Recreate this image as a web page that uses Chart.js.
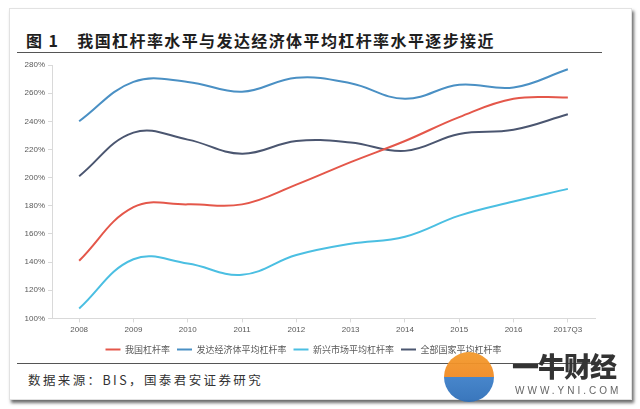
<!DOCTYPE html>
<html><head><meta charset="utf-8">
<script src="https://cdn.jsdelivr.net/npm/chart.js@4.4.0/dist/chart.umd.min.js"></script>
<style>
html,body{margin:0;padding:0;background:#fff;}
body{width:640px;height:409px;position:relative;overflow:hidden;font-family:"Noto Sans CJK SC",sans-serif;}
#card{position:absolute;left:9px;top:8px;width:621px;height:390px;background:#fff;border:1px solid #e2e2e2;box-shadow:2px 3px 3px rgba(60,60,60,0.75);}
#title{position:absolute;left:26px;top:28px;font-size:16px;font-weight:700;color:#1e1e1e;letter-spacing:1.4px;white-space:nowrap;}
#title .n{margin-right:18px;}
#hr1{position:absolute;left:17px;top:52px;width:585px;height:1px;background:#555;}
#hr2{position:absolute;left:17px;top:363px;width:585px;height:1px;background:#555;}
#src{position:absolute;left:28px;top:370px;font-size:12.5px;color:#333;letter-spacing:2.4px;white-space:nowrap;}
#wrap{position:absolute;left:0;top:56px;width:620px;height:308px;}
#logo{position:absolute;left:444px;top:352px;width:50px;height:50px;border-radius:50%;background:linear-gradient(180deg,#f39a2b 0%,#f08a24 50%,#3d7fc8 51%,#2f6fb8 100%);opacity:0.95;}
#wm1{position:absolute;left:512px;top:346px;font-size:27px;font-weight:900;color:#333;letter-spacing:-1px;white-space:nowrap;}
#wm2{position:absolute;left:515px;top:385px;font-size:10px;color:#666;letter-spacing:3px;font-family:"Liberation Sans",sans-serif;white-space:nowrap;}
</style></head>
<body>
<div id="card"></div>
<div id="title"><span class="n">图 1</span>我国杠杆率水平与发达经济体平均杠杆率水平逐步接近</div>
<div id="hr1"></div>
<div id="wrap"><canvas id="c"></canvas></div>
<div id="hr2"></div>
<div id="src">数据来源：BIS，国泰君安证券研究</div>
<div id="logo"></div>
<div id="wm1">一牛财经</div>
<div id="wm2">WWW.YNI.COM</div>
<script>
const categories = ["2008","2009","2010","2011","2012","2013","2014","2015","2016","2017Q3"];
const chinaLeverage = [141,179,181,181,195,211,226,243,256,257];
const developedLeverage = [240,268,268,261,271,267,256,266,264,277];
const emergingLeverage = [107,142,139,131,145,153,158,173,183,192];
const allCountriesLeverage = [201,232,227,217,226,225,219,231,234,245];
const seriesNames = ["我国杠杆率","发达经济体平均杠杆率","新兴市场平均杠杆率","全部国家平均杠杆率"];
const yTicks = [100,120,140,160,180,200,220,240,260,280];

const colors = ["#e4574a","#4a90c4","#4bbfe2","#4b5670"];
const seriesData = [chinaLeverage, developedLeverage, emergingLeverage, allCountriesLeverage];

new Chart(document.getElementById('c'), {
  type: 'line',
  data: {
    labels: categories,
    datasets: seriesNames.map((n,i)=>({
      label: n,
      data: seriesData[i],
      borderColor: colors[i],
      backgroundColor: colors[i],
      borderWidth: 2,
      pointRadius: 0,
      tension: 0.4,
      fill: false
    }))
  },
  options: {
    responsive: true,
    maintainAspectRatio: false,
    animation: false,
    devicePixelRatio: 1,
    layout: {padding: {left: 12, right: 25, top: 9, bottom: 0}},
    plugins: {
      tooltip: {enabled: false},
      legend: {
        position: 'bottom',
        labels: {
          boxWidth: 15, boxHeight: 2, padding: 7,
          color: '#595959',
          font: {family: '"Noto Sans CJK SC", sans-serif', size: 9},
          generateLabels: (chart) => Chart.defaults.plugins.legend.labels.generateLabels(chart).map(l => ({...l, lineWidth: 0}))
        }
      }
    },
    scales: {
      x: {
        offset: true,
        grid: {drawOnChartArea: false, drawTicks: true, tickLength: 4, offset: false, color: '#d9d9d9'},
        border: {color: '#d9d9d9'},
        ticks: {color: '#595959', font: {family: '"Liberation Sans", sans-serif', size: 8}, padding: 3, maxRotation: 0, autoSkip: false}
      },
      y: {
        min: 100, max: 280,
        afterBuildTicks: (s) => { s.ticks = yTicks.map(v => ({value: v})); },
        afterFit: (s) => { s.width = 40; },
        grid: {drawOnChartArea: false, drawTicks: true, tickLength: 4, color: '#d9d9d9'},
        border: {color: '#d9d9d9'},
        ticks: {color: '#595959', font: {family: '"Liberation Sans", sans-serif', size: 8}, padding: 3, callback: v => v + '%'}
      }
    }
  }
});
</script>
</body></html>
